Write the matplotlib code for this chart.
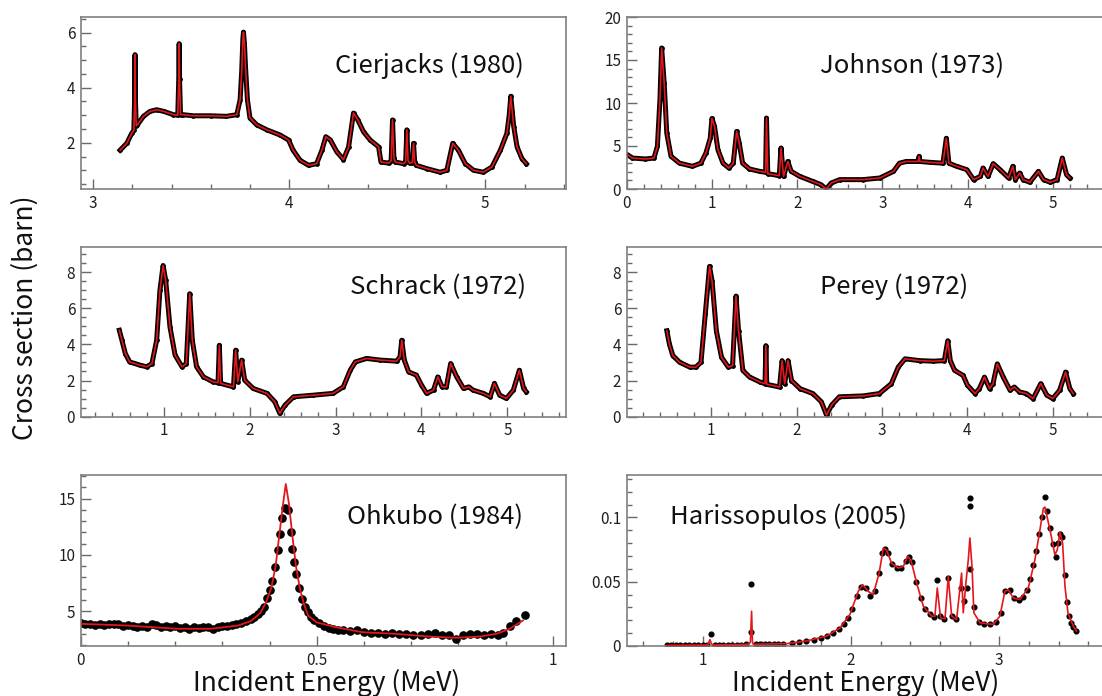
import matplotlib
matplotlib.use("Agg")
import matplotlib.pyplot as plt
from matplotlib.ticker import MultipleLocator, FuncFormatter

plt.rcParams['font.family'] = ['Noto Sans CJK JP', 'DejaVu Sans']

# ---- data (energy in MeV, cross section in barn) ----
cier_E = [3.138, 3.172, 3.197, 3.208, 3.212, 3.214, 3.216, 3.22, 3.226, 3.257,
          3.29, 3.325, 3.36, 3.41, 3.432, 3.437, 3.439, 3.441, 3.446, 3.46,
          3.51, 3.6, 3.68, 3.733, 3.75, 3.758, 3.764, 3.767, 3.772, 3.777,
          3.787, 3.8, 3.835, 3.886, 3.954, 3.997, 4.02, 4.056, 4.099, 4.14,
          4.167, 4.187, 4.21, 4.243, 4.277, 4.303, 4.328, 4.35, 4.379, 4.413,
          4.456, 4.468, 4.507, 4.52, 4.527, 4.534, 4.541, 4.583, 4.594, 4.6,
          4.606, 4.614, 4.628, 4.634, 4.64, 4.648, 4.702, 4.77, 4.804, 4.834,
          4.863, 4.898, 4.94, 4.99, 5.034, 5.077, 5.11, 5.122, 5.13, 5.138,
          5.145, 5.162, 5.187, 5.209]
cier_xs = [1.73, 1.98, 2.34, 2.45, 3.6, 5.2, 3.6, 2.62, 2.65, 2.96,
           3.14, 3.2, 3.14, 3.02, 3.0, 4.3, 5.6, 4.3, 3.02, 3.02,
           2.98, 2.98, 2.96, 3.02, 3.57, 4.6, 5.78, 6.02, 5.6, 4.8,
           3.57, 2.9, 2.65, 2.47, 2.28, 2.1, 1.73, 1.36, 1.18, 1.24,
           1.73, 2.22, 2.1, 1.67, 1.39, 1.85, 3.08, 2.83, 2.4, 2.1,
           1.85, 1.3, 1.26, 1.35, 2.83, 1.45, 1.3, 1.24, 1.3, 2.47,
           1.35, 1.26, 1.28, 1.98, 1.3, 1.18, 1.06, 0.93, 1.0, 1.98,
           1.73, 1.24, 1.0, 0.93, 1.12, 1.73, 2.34, 3.0, 3.69, 3.1,
           2.59, 1.85, 1.42, 1.24]

john_E = [0.008, 0.067, 0.22, 0.32, 0.36, 0.39, 0.41, 0.44, 0.47, 0.52,
          0.62, 0.77, 0.87, 0.93, 0.98, 1.0, 1.03, 1.07, 1.13, 1.2,
          1.25, 1.29, 1.32, 1.36, 1.44, 1.56, 1.63, 1.64, 1.655, 1.79,
          1.81, 1.84, 1.89, 1.93, 2.03, 2.18, 2.28, 2.34, 2.4, 2.5,
          2.77, 2.97, 3.13, 3.2, 3.28, 3.42, 3.43, 3.44, 3.56, 3.71,
          3.75, 3.78, 3.87, 3.99, 4.07, 4.15, 4.18, 4.24, 4.3, 4.38,
          4.48, 4.53, 4.56, 4.61, 4.65, 4.73, 4.83, 4.89, 4.97, 5.05,
          5.11, 5.16, 5.2]
john_xs = [3.99, 3.6, 3.49, 3.6, 4.96, 10.4, 16.4, 12.3, 6.5, 3.8,
           3.0, 2.64, 3.0, 4.19, 5.9, 8.2, 7.3, 4.57, 3.0, 2.44,
           3.0, 6.7, 5.35, 3.0, 2.33, 2.05, 1.94, 8.25, 1.78, 1.55,
           4.77, 1.47, 3.2, 2.05, 1.47, 0.89, 0.5, 0.0, 0.7, 1.09,
           1.09, 1.28, 2.05, 3.0, 3.2, 3.2, 3.8, 3.2, 3.1, 3.0,
           5.9, 3.0, 2.64, 2.25, 1.09, 1.47, 2.44, 1.47, 2.95, 2.25,
           1.28, 2.64, 1.09, 1.86, 1.09, 0.78, 2.05, 1.09, 0.78, 1.09,
           3.6, 1.67, 1.28]

schr_E = [0.48, 0.51, 0.55, 0.6, 0.72, 0.8, 0.86, 0.915, 0.953, 0.99,
          1.02, 1.07, 1.13, 1.21, 1.26, 1.3, 1.33, 1.38, 1.46, 1.57,
          1.63, 1.645, 1.66, 1.81, 1.835, 1.86, 1.905, 1.94, 2.04, 2.2,
          2.29, 2.35, 2.41, 2.51, 2.74, 2.97, 3.09, 3.17, 3.23, 3.36,
          3.52, 3.71, 3.75, 3.77, 3.8, 3.85, 3.94, 4.0, 4.06, 4.14,
          4.19, 4.24, 4.29, 4.34, 4.41, 4.49, 4.55, 4.6, 4.72, 4.8,
          4.85, 4.91, 4.99, 5.07, 5.14, 5.19, 5.22]
schr_xs = [4.78, 4.23, 3.49, 3.03, 2.85, 2.76, 2.94, 4.23, 6.99, 8.36,
           7.54, 4.96, 3.4, 2.76, 2.94, 6.8, 4.23, 2.76, 2.2, 1.93,
           1.88, 3.95, 1.84, 1.65, 3.68, 1.93, 3.13, 2.02, 1.56, 1.29,
           0.83, 0.18, 0.64, 1.1, 1.19, 1.29, 1.65, 2.57, 3.03, 3.22,
           3.13, 3.07, 3.31, 4.23, 3.13, 2.48, 2.3, 1.75, 1.29, 1.47,
           2.2, 1.65, 1.65, 2.94, 2.2, 1.56, 1.65, 1.47, 1.29, 1.1,
           1.84, 1.19, 1.01, 1.47, 2.57, 1.56, 1.38]

per_E = [0.48, 0.51, 0.55, 0.63, 0.75, 0.82, 0.88, 0.93, 0.98, 1.01,
         1.06, 1.12, 1.2, 1.25, 1.29, 1.32, 1.37, 1.45, 1.57, 1.63,
         1.64, 1.65, 1.8, 1.83, 1.86, 1.9, 1.94, 2.04, 2.19, 2.29,
         2.35, 2.41, 2.5, 2.78, 2.97, 3.11, 3.19, 3.27, 3.44, 3.6,
         3.73, 3.77, 3.8, 3.85, 3.95, 4.0, 4.09, 4.14, 4.2, 4.26,
         4.3, 4.35, 4.42, 4.5, 4.55, 4.61, 4.69, 4.77, 4.86, 4.93,
         5.0, 5.08, 5.15, 5.2, 5.24]
per_xs = [4.75, 4.02, 3.38, 3.01, 2.74, 2.74, 3.01, 5.66, 8.31, 7.49,
          4.75, 3.29, 2.74, 2.83, 6.67, 4.75, 2.56, 2.19, 1.92, 1.83,
          3.93, 1.79, 1.64, 3.1, 1.83, 3.1, 2.0, 1.55, 1.28, 0.82,
          0.09, 0.64, 1.1, 1.15, 1.28, 1.83, 2.74, 3.2, 3.1, 3.07,
          3.1, 4.2, 3.1, 2.56, 2.28, 1.74, 1.28, 1.55, 2.19, 1.55,
          1.83, 2.92, 2.19, 1.46, 1.64, 1.37, 1.28, 1.0, 1.83, 1.19,
          1.0, 1.46, 2.47, 1.55, 1.28]

ohk_fit_E = [0.0, 0.098, 0.205, 0.276, 0.333, 0.36, 0.38, 0.393, 0.404, 0.413,
             0.42, 0.428, 0.4345, 0.441, 0.449, 0.456, 0.464, 0.473, 0.482, 0.5,
             0.539, 0.596, 0.667, 0.738, 0.795, 0.845, 0.881, 0.909, 0.937]
ohk_fit_xs = [3.87, 3.72, 3.43, 3.43, 3.72, 4.1, 4.8, 5.8, 7.1, 9.0,
              11.5, 14.3, 16.3, 14.6, 11.5, 9.0, 7.1, 5.6, 4.6, 4.0,
              3.58, 3.13, 2.98, 2.74, 2.63, 2.74, 2.98, 3.43, 4.17]
ohk_dat_E = [0.0, 0.01, 0.02, 0.03, 0.04, 0.05, 0.06, 0.07, 0.08, 0.09,
             0.10, 0.11, 0.12, 0.13, 0.14, 0.15, 0.16, 0.17, 0.18, 0.19,
             0.20, 0.21, 0.22, 0.23, 0.24, 0.25, 0.26, 0.27, 0.28, 0.29,
             0.30, 0.31, 0.32, 0.33, 0.34, 0.35, 0.36, 0.368, 0.375, 0.381,
             0.388, 0.395, 0.40, 0.405, 0.411, 0.417, 0.422, 0.426, 0.432, 0.44,
             0.445, 0.448, 0.452, 0.457, 0.463, 0.468, 0.475, 0.481, 0.488, 0.495,
             0.505, 0.515, 0.525, 0.535, 0.545, 0.555, 0.57, 0.585, 0.60, 0.615,
             0.63, 0.645, 0.66, 0.675, 0.69, 0.705, 0.72, 0.735, 0.75, 0.765,
             0.78, 0.795, 0.81, 0.825, 0.84, 0.855, 0.87, 0.885, 0.895, 0.909,
             0.923, 0.941]
ohk_dat_xs = [3.95, 3.85, 3.9, 3.8, 3.88, 3.75, 3.82, 3.9, 3.85, 3.7,
              3.78, 3.72, 3.6, 3.65, 3.58, 3.85, 3.75, 3.6, 3.7, 3.55,
              3.65, 3.5, 3.6, 3.45, 3.55, 3.5, 3.6, 3.55, 3.45, 3.6,
              3.7, 3.65, 3.8, 3.85, 3.95, 4.1, 4.3, 4.45, 4.75, 5.0,
              5.4, 6.2, 6.9, 7.7, 8.9, 10.4, 11.9, 13.3, 14.2, 14.0,
              12.0, 10.5, 9.35, 8.3, 7.1, 6.1, 5.35, 4.9, 4.5, 4.2,
              3.95, 3.7, 3.5, 3.45, 3.35, 3.3, 3.2, 3.3, 3.15, 3.05,
              3.1, 3.0, 3.05, 2.95, 3.0, 2.85, 2.9, 3.0, 3.05, 2.9,
              2.85, 2.55, 2.85, 2.95, 3.0, 2.9, 2.95, 2.85, 3.1, 3.7,
              4.15, 4.7]

hari_fit_E = [0.762, 1.027, 1.04, 1.049, 1.058, 1.067, 1.308, 1.322, 1.33, 1.336,
              1.342, 1.566, 1.7, 1.836, 1.926, 1.993, 2.049, 2.079, 2.117, 2.15,
              2.19, 2.218, 2.24, 2.274, 2.319, 2.353, 2.382, 2.404, 2.443, 2.488,
              2.544, 2.566, 2.582, 2.604, 2.634, 2.656, 2.679, 2.712, 2.746, 2.757,
              2.775, 2.791, 2.802, 2.816, 2.829, 2.87, 2.96, 3.004, 3.038, 3.061,
              3.094, 3.139, 3.196, 3.24, 3.274, 3.297, 3.308, 3.342, 3.375, 3.391,
              3.409, 3.427, 3.443, 3.463, 3.499, 3.521]
hari_fit_xs = [0.0005, 0.0008, 0.002, 0.005, 0.002, 0.0008, 0.0013, 0.003, 0.027, 0.003,
               0.0013, 0.0018, 0.0039, 0.0077, 0.014, 0.0245, 0.0425, 0.0477, 0.0425, 0.040,
               0.0567, 0.076, 0.0747, 0.0644, 0.0606, 0.0619, 0.0696, 0.067, 0.049, 0.031,
               0.0232, 0.0232, 0.0451, 0.0219, 0.0211, 0.054, 0.0232, 0.0206, 0.0567, 0.0258,
               0.049, 0.067, 0.084, 0.0619, 0.0258, 0.018, 0.0168, 0.0232, 0.0425, 0.0438,
               0.0374, 0.0361, 0.0451, 0.067, 0.0902, 0.107, 0.108, 0.0902, 0.0709, 0.0747,
               0.0889, 0.0799, 0.0464, 0.0258, 0.0155, 0.0116]
hari_dat_E = [0.76, 0.79, 0.82, 0.85, 0.88, 0.91, 0.94, 0.97, 1.0, 1.03,
              1.054, 1.08, 1.11, 1.14, 1.17, 1.2, 1.23, 1.26, 1.29, 1.326,
              1.326, 1.36, 1.39, 1.42, 1.45, 1.48, 1.51, 1.54, 1.6, 1.65,
              1.7, 1.75, 1.8, 1.84, 1.88, 1.92, 1.95, 1.98, 2.01, 2.04,
              2.07, 2.1, 2.13, 2.16, 2.19, 2.21, 2.23, 2.25, 2.28, 2.31,
              2.34, 2.37, 2.39, 2.41, 2.44, 2.47, 2.5, 2.53, 2.56, 2.582,
              2.6, 2.63, 2.656, 2.68, 2.71, 2.74, 2.76, 2.78, 2.802, 2.802,
              2.802, 2.83, 2.86, 2.9, 2.94, 2.98, 3.01, 3.04, 3.07, 3.1,
              3.13, 3.16, 3.19, 3.21, 3.23, 3.25, 3.27, 3.29, 3.308, 3.32,
              3.34, 3.36, 3.38, 3.395, 3.409, 3.425, 3.44, 3.455, 3.47, 3.485,
              3.5, 3.515]
hari_dat_xs = [0.0005, 0.0005, 0.0005, 0.0005, 0.0006, 0.0006, 0.0006, 0.0007, 0.0007, 0.001,
               0.009, 0.001, 0.0009, 0.0009, 0.001, 0.001, 0.001, 0.0011, 0.0012, 0.0485,
               0.011, 0.0013, 0.0013, 0.0014, 0.0015, 0.0016, 0.0016, 0.0017, 0.002, 0.003,
               0.0039, 0.005, 0.0065, 0.008, 0.01, 0.0135, 0.017, 0.022, 0.029, 0.039,
               0.046, 0.0455, 0.039, 0.043, 0.0567, 0.072, 0.0755, 0.072, 0.0635, 0.0605,
               0.061, 0.066, 0.0695, 0.065, 0.05, 0.037, 0.029, 0.025, 0.0225, 0.0515,
               0.023, 0.021, 0.053, 0.023, 0.021, 0.045, 0.035, 0.045, 0.109, 0.115,
               0.06, 0.03, 0.019, 0.017, 0.017, 0.019, 0.026, 0.043, 0.0435, 0.037,
               0.036, 0.038, 0.0435, 0.052, 0.063, 0.074, 0.087, 0.1, 0.116, 0.105,
               0.092, 0.079, 0.069, 0.08, 0.087, 0.085, 0.055, 0.034, 0.023, 0.018,
               0.0145, 0.0115]

W, H = 1102, 696
fig = plt.figure(figsize=(W / 100, H / 100), dpi=100)

RED = "#e3161b"
GRID = "#808080"


def px_axes(x0, y0, x1, y1):
    # axes from pixel box (top-left origin)
    return fig.add_axes([x0 / W, 1 - y1 / H, (x1 - x0) / W, (y1 - y0) / H])


def style(ax, xlim, ylim, xmaj, xmin, ymaj, ymin):
    ax.set_xlim(*xlim)
    ax.set_ylim(*ylim)
    ax.xaxis.set_major_locator(MultipleLocator(xmaj))
    ax.xaxis.set_minor_locator(MultipleLocator(xmin))
    ax.yaxis.set_major_locator(MultipleLocator(ymaj))
    ax.yaxis.set_minor_locator(MultipleLocator(ymin))
    fmt = FuncFormatter(lambda v, p: f"{round(v, 6):g}")
    ax.xaxis.set_major_formatter(fmt)
    ax.yaxis.set_major_formatter(fmt)
    for s in ax.spines.values():
        s.set_color(GRID)
        s.set_linewidth(1.2)
    ax.tick_params(which="both", direction="in", color="#6a6a6a", width=1.0,
                   labelsize=11, labelcolor="#202020", top=False, right=False)
    ax.tick_params(which="major", length=7, pad=4)
    ax.tick_params(which="minor", length=3.5)


L0, L1 = 80.7, 565.7
R0, R1 = 626.7, 1111.7
rows = [(17, 189), (246.7, 416.7), (475, 646)]

ax1 = px_axes(L0, rows[0][0], L1, rows[0][1])
ax2 = px_axes(R0, rows[0][0], R1, rows[0][1])
ax3 = px_axes(L0, rows[1][0], L1, rows[1][1])
ax4 = px_axes(R0, rows[1][0], R1, rows[1][1])
ax5 = px_axes(L0, rows[2][0], L1, rows[2][1])
ax6 = px_axes(R0, rows[2][0], R1, rows[2][1])

# dense measured data (black band) with fitted curve on top
for ax, E, xs in [(ax1, cier_E, cier_xs), (ax2, john_E, john_xs),
                  (ax3, schr_E, schr_xs), (ax4, per_E, per_xs)]:
    ax.plot(E, xs, color="black", lw=3.6, marker="o", ms=2.4, zorder=2)
    ax.plot(E, xs, color=RED, lw=1.2, zorder=3)

ax5.plot(ohk_dat_E, ohk_dat_xs, "o", color="black", ms=5.2, zorder=2)
ax5.plot(ohk_fit_E, ohk_fit_xs, color=RED, lw=1.3, zorder=3)

ax6.plot(hari_dat_E, hari_dat_xs, "o", color="black", ms=3.4, zorder=2)
ax6.plot(hari_fit_E, hari_fit_xs, color=RED, lw=1.2, zorder=3)

style(ax1, (2.937, 5.41), (0.32, 6.57), 1, 0.2, 2, 0.5)
style(ax2, (0, 5.69), (0, 20), 1, 0.2, 5, 1)
style(ax3, (0.03, 5.68), (0, 9.4), 1, 0.2, 2, 0.5)
style(ax4, (0.01, 5.69), (0, 9.4), 1, 0.2, 2, 0.5)
style(ax5, (0, 1.0275), (1.9, 17.1), 0.5, 0.1, 5, 1)
style(ax6, (0.488, 3.758), (0, 0.133), 1, 0.2, 0.05, 0.01)

# panel labels
titles = [("Cierjacks (1980)", 335, 66), ("Johnson (1973)", 820, 66),
          ("Schrack (1972)", 350, 287), ("Perey (1972)", 820, 287),
          ("Ohkubo (1984)", 347, 517), ("Harissopulos (2005)", 670, 517)]
for txt, x, y in titles:
    fig.text(x / W, 1 - y / H, txt, fontsize=18.5, ha="left", va="center", color="#111111")

fig.text(25 / W, 1 - 440 / H, "Cross section (barn)", rotation=90, fontsize=19,
         ha="center", va="bottom", color="#111111")
fig.text(327 / W, 1 - 683 / H, "Incident Energy (MeV)", fontsize=19,
         ha="center", va="center", color="#111111")
fig.text(866 / W, 1 - 683 / H, "Incident Energy (MeV)", fontsize=19,
         ha="center", va="center", color="#111111")

fig.savefig("out.png", dpi=100)
